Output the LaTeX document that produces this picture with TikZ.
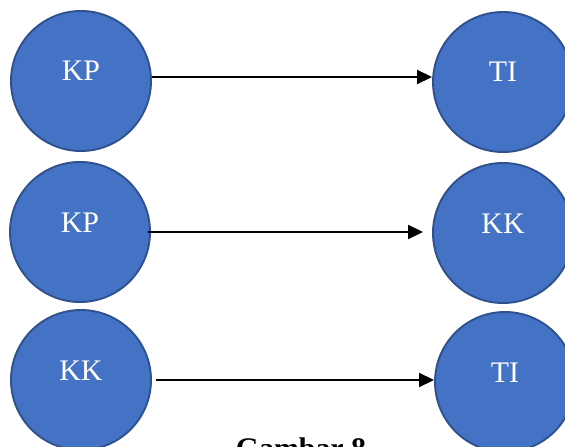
\documentclass[tikz,border=0pt]{standalone}
\usepackage{fontspec}
\setmainfont{Liberation Serif}
\usetikzlibrary{arrows.meta}
\definecolor{circfill}{HTML}{4472C4}
\definecolor{circline}{HTML}{2F528F}

\begin{document}
\begin{tikzpicture}[
    vertex/.style={circle, draw=circline, line width=1.1pt, fill=circfill,
        minimum size=2.8cm, inner sep=0pt, text=white,
        text height=0.4cm, text depth=0.4cm, font=\fontsize{17}{20}\selectfont},
    link/.style={line width=1.1pt, -{Triangle[length=0.3cm,width=0.28cm]}}
]
    \useasboundingbox (0,0) rectangle (11.3,8.92);
    \node[vertex] (kpa) at (1.62,7.30) {KP};
    \node[vertex] (tia) at (10.06,7.28) {TI};
    \node[vertex] (kpb) at (1.60,4.28) {KP};
    \node[vertex] (kkb) at (10.06,4.26) {KK};
    \node[vertex] (kkc) at (1.62,1.32) {KK};
    \node[vertex] (tic) at (10.10,1.28) {TI};
    \draw[link] ([yshift=0.08cm]kpa.east) -- ([yshift=0.08cm]kpa.east -| tia.west);
    \draw[link, shorten >=0.18cm] ([xshift=-0.06cm]kpb.east) -- (kpb.east -| kkb.west);
    \draw[link, shorten <=0.08cm] (kkc.east) -- (kkc.east -| tic.west);
    \node[anchor=base, font=\fontsize{17}{20}\selectfont\bfseries] (cap) at (6.02,-0.24) {Gambar 8};
\end{tikzpicture}
\end{document}
